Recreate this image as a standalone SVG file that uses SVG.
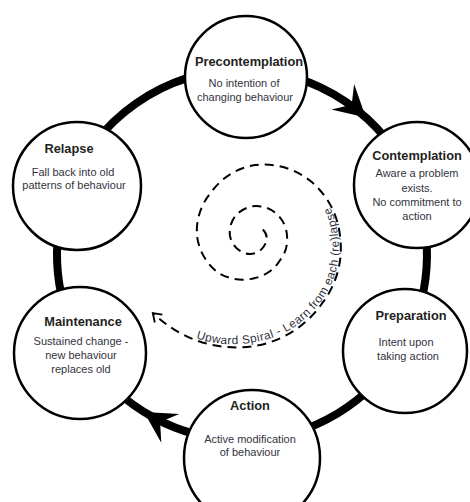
<svg xmlns="http://www.w3.org/2000/svg" width="470" height="502" viewBox="0 0 470 502">
<style>
.ring{fill:none;stroke:#000;stroke-width:8}
.node circle{fill:#fff;stroke:#000;stroke-width:2.5}
.t{font-family:"Liberation Sans",Arial,sans-serif;font-weight:bold;font-size:12.8px;fill:#231f20;text-anchor:middle}
.b{font-family:"Liberation Sans",Arial,sans-serif;font-size:11px;fill:#333340;text-anchor:middle}
.spiral{fill:none;stroke:#000;stroke-width:2;stroke-dasharray:9 6}
.sp{font-family:"Liberation Sans",Arial,sans-serif;font-size:11.8px;letter-spacing:0.45px;fill:#333340}
</style>
<defs>
<marker id="open" viewBox="-10 -8 12 16" refX="0" refY="0" markerWidth="12" markerHeight="16" markerUnits="userSpaceOnUse" orient="auto">
<path d="M-8,-5.5 L0,0 L-8,5.5" fill="none" stroke="#000" stroke-width="1.8"/>
</marker>
<path id="head" d="M0,0 L-31,-17 L-19,0 L-31,17 Z"/>
<path id="tp" d="M196,338.2 A113,113 0 0 0 255,342 A100,100 0 0 0 320.8,301.8 A88,88 0 0 0 338,236 A80,80 0 0 0 304.5,177"/>
</defs>
<g id="connectors">
<path class="ring" d="M242,70 A185,185 0 0 1 413.5,185.7"/>
<path class="ring" d="M413.5,185.7 A185,185 0 0 1 402.2,347.5"/>
<path class="ring" d="M402.2,347.5 A185,185 0 0 1 248.5,439.9"/>
<path class="ring" d="M248.5,439.9 A185,185 0 0 1 83.4,350.3"/>
<path class="ring" d="M83.4,350.3 A185,185 0 0 1 68.2,191.7"/>
<path class="ring" d="M68.2,191.7 A185,185 0 0 1 242,70"/>
<use href="#head" transform="translate(365.8,117.5) rotate(42)"/>
<use href="#head" transform="translate(144,412) rotate(212)"/>
</g>
<g id="spiral">
<path class="spiral" marker-end="url(#open)" d="M262.7,229.6 A11.5,11.5 0 0 1 265,244.4 A16.5,16.5 0 0 1 245,253.3 A22.5,22.5 0 0 1 230,236 A26.5,26.5 0 0 1 235.2,216.2 A29,29 0 0 1 255,206 A30.5,30.5 0 0 1 276.9,214.1 A31.5,31.5 0 0 1 287,236 A33.5,33.5 0 0 1 279.7,260.7 A38.5,38.5 0 0 1 255,278 A47,47 0 0 1 218.2,272.8 A55,55 0 0 1 197,236 A60,60 0 0 1 211.2,192.2 A66.5,66.5 0 0 1 255,165 A74.5,74.5 0 0 1 310.2,180.8 A81.5,81.5 0 0 1 340,236 A90,90 0 0 1 322.2,303.2 A102.5,102.5 0 0 1 255,346 A117.5,117.5 0 0 1 166.6,324.4 A126.5,126.5 0 0 1 152.8,313"/>
<text class="sp"><textPath href="#tp">Upward Spiral - Learn from each (re)lapse</textPath></text>
</g>
<g id="precontemplation" class="node">
<circle cx="246" cy="77" r="61"/>
<text class="t" x="249" y="66">Precontemplation</text>
<text class="b" x="244" y="87">No intention of</text>
<text class="b" x="245" y="101">changing behaviour</text>
</g>
<g id="contemplation" class="node">
<circle cx="417" cy="185" r="63"/>
<text class="t" x="417" y="160">Contemplation</text>
<text class="b" x="417" y="177">Aware a problem</text>
<text class="b" x="417" y="191.5">exists.</text>
<text class="b" x="417" y="206">No commitment to</text>
<text class="b" x="417" y="220">action</text>
</g>
<g id="preparation" class="node">
<circle cx="405" cy="351" r="62"/>
<text class="t" x="411" y="320">Preparation</text>
<text class="b" x="406" y="346">Intent upon</text>
<text class="b" x="408" y="360">taking action</text>
</g>
<g id="action" class="node">
<circle cx="252" cy="458" r="68"/>
<text class="t" x="250" y="410">Action</text>
<text class="b" x="250" y="443">Active modification</text>
<text class="b" x="250" y="456">of behaviour</text>
</g>
<g id="maintenance" class="node">
<circle cx="80" cy="353" r="66"/>
<text class="t" x="83" y="326">Maintenance</text>
<text class="b" x="81" y="345">Sustained change -</text>
<text class="b" x="81" y="359">new behaviour</text>
<text class="b" x="81" y="373">replaces old</text>
</g>
<g id="relapse" class="node">
<circle cx="77" cy="186" r="64"/>
<text class="t" x="69" y="153">Relapse</text>
<text class="b" x="73" y="176">Fall back into old</text>
<text class="b" x="74" y="189">patterns of behaviour</text>
</g>
</svg>
